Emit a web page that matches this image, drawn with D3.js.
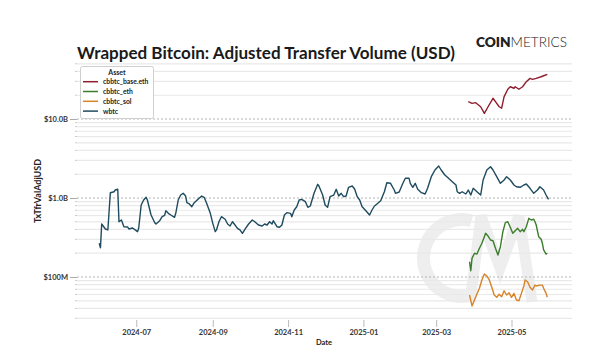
<!DOCTYPE html>
<html><head><meta charset="utf-8">
<script src="https://cdn.jsdelivr.net/npm/d3@7"></script>
<style>
body{margin:0;background:#fff}
svg{display:block}
text{font-family:Lato,"Open Sans",sans-serif}
</style>
</head><body>
<svg id="chart" width="600" height="356"></svg>
<script>
// ---------- DATA (values in USD millions) ----------
const seriesNames = ["cbbtc_base.eth", "cbbtc_eth", "cbbtc_sol", "wbtc"];
const seriesColors = ["#8e1d2e", "#3b7d2b", "#d98329", "#1e4b5e"];

const wbtcDates = ["2024-06-01","2024-06-02","2024-06-03","2024-06-06","2024-06-08","2024-06-10","2024-06-13","2024-06-14","2024-06-16","2024-06-17","2024-06-19","2024-06-21","2024-06-24","2024-06-25","2024-06-28","2024-07-01","2024-07-02","2024-07-03","2024-07-05","2024-07-07","2024-07-09","2024-07-10","2024-07-13","2024-07-16","2024-07-17","2024-07-20","2024-07-22","2024-07-24","2024-07-25","2024-07-27","2024-07-29","2024-08-01","2024-08-02","2024-08-04","2024-08-06","2024-08-08","2024-08-10","2024-08-11","2024-08-13","2024-08-15","2024-08-17","2024-08-20","2024-08-23","2024-08-25","2024-08-27","2024-08-30","2024-09-01","2024-09-03","2024-09-04","2024-09-06","2024-09-08","2024-09-11","2024-09-13","2024-09-15","2024-09-17","2024-09-19","2024-09-21","2024-09-23","2024-09-25","2024-09-27","2024-09-30","2024-10-03","2024-10-05","2024-10-08","2024-10-11","2024-10-13","2024-10-15","2024-10-17","2024-10-19","2024-10-20","2024-10-23","2024-10-25","2024-10-27","2024-10-29","2024-10-31","2024-11-03","2024-11-04","2024-11-06","2024-11-08","2024-11-10","2024-11-12","2024-11-15","2024-11-17","2024-11-19","2024-11-22","2024-11-25","2024-11-26","2024-11-29","2024-12-01","2024-12-03","2024-12-05","2024-12-08","2024-12-10","2024-12-12","2024-12-14","2024-12-16","2024-12-18","2024-12-20","2024-12-23","2024-12-25","2024-12-27","2024-12-29","2024-12-31","2025-01-03","2025-01-06","2025-01-08","2025-01-10","2025-01-12","2025-01-15","2025-01-18","2025-01-20","2025-01-23","2025-01-26","2025-01-27","2025-01-30","2025-02-02","2025-02-04","2025-02-07","2025-02-08","2025-02-10","2025-02-12","2025-02-14","2025-02-17","2025-02-20","2025-02-22","2025-02-25","2025-02-28","2025-03-03","2025-03-05","2025-03-08","2025-03-11","2025-03-14","2025-03-17","2025-03-18","2025-03-20","2025-03-22","2025-03-25","2025-03-27","2025-03-29","2025-03-31","2025-04-03","2025-04-06","2025-04-08","2025-04-11","2025-04-14","2025-04-16","2025-04-19","2025-04-22","2025-04-25","2025-04-27","2025-04-30","2025-05-03","2025-05-05","2025-05-08","2025-05-11","2025-05-13","2025-05-16","2025-05-19","2025-05-22","2025-05-24","2025-05-27","2025-05-29","2025-05-31"];
const wbtcValues = [267,235,469,405,394,1167,1201,1262,1289,501,527,433,430,405,417,386,375,417,815,943,1021,943,609,487,469,516,580,604,691,640,609,570,640,943,1091,1147,1060,872,840,776,872,963,1060,1021,857,640,478,375,394,501,580,538,469,442,501,455,413,394,357,401,469,527,501,455,442,469,455,501,469,516,433,426,455,609,652,640,580,705,776,943,963,898,762,792,1147,1490,1418,1091,815,762,1039,1091,1289,1060,1147,1039,1060,1366,1418,1289,1039,943,776,691,609,705,792,840,924,1201,1562,1535,1262,1147,1190,1535,1776,1776,1535,1366,1535,1289,1167,1124,1327,1861,2262,2542,2262,1955,1776,1608,1461,1201,1147,1201,1124,1262,1091,1327,1201,1091,1690,2262,2490,2262,1861,1535,1690,1861,1690,1461,1390,1366,1461,1504,1327,1147,1262,1390,1262,1091,963];

const baseEthDates = ["2025-03-27","2025-03-30","2025-04-02","2025-04-06","2025-04-09","2025-04-12","2025-04-16","2025-04-18","2025-04-21","2025-04-23","2025-04-25","2025-04-28","2025-04-30","2025-05-03","2025-05-04","2025-05-07","2025-05-10","2025-05-13","2025-05-16","2025-05-18","2025-05-21","2025-05-25","2025-05-27","2025-05-30"];
const baseEthValues = [16560,15800,16100,14300,11800,14300,18300,16560,14300,13700,19200,23800,25600,24500,25600,23800,25600,29700,32700,31800,32700,34300,35300,36800];

const ethDates = ["2025-03-28","2025-03-29","2025-03-30","2025-04-01","2025-04-03","2025-04-05","2025-04-07","2025-04-09","2025-04-10","2025-04-12","2025-04-14","2025-04-16","2025-04-18","2025-04-20","2025-04-22","2025-04-24","2025-04-26","2025-04-28","2025-04-30","2025-05-02","2025-05-04","2025-05-06","2025-05-08","2025-05-10","2025-05-11","2025-05-13","2025-05-15","2025-05-17","2025-05-19","2025-05-20","2025-05-21","2025-05-23","2025-05-25","2025-05-26","2025-05-27","2025-05-29","2025-05-30"];
const ethValues = [156,120,172,200,195,231,267,324,357,330,294,288,231,190,242,375,487,501,426,357,386,413,375,401,375,433,553,527,538,501,455,324,300,267,220,195,200];

const solDates = ["2025-03-28","2025-03-30","2025-04-01","2025-04-03","2025-04-05","2025-04-07","2025-04-09","2025-04-11","2025-04-13","2025-04-15","2025-04-17","2025-04-19","2025-04-21","2025-04-23","2025-04-25","2025-04-27","2025-04-29","2025-05-01","2025-05-03","2025-05-05","2025-05-07","2025-05-09","2025-05-11","2025-05-12","2025-05-14","2025-05-16","2025-05-18","2025-05-20","2025-05-21","2025-05-24","2025-05-26","2025-05-27","2025-05-29","2025-05-30"];
const solValues = [59.2,43,51.2,61,72,91.7,109,103,91.7,74,59.2,55.3,60.4,56.3,67,59.2,63,55.3,62,51.2,50,62,77,91.7,87,74,68.5,79,77,79,79,72,62,55.3];

const yTickValues = [100, 1000, 10000];
const yTickLabels = ["$100M", "$1.0B", "$10.0B"];
const yMinorValues = [30,40,50,60,70,80,90,200,300,400,500,600,700,800,900,2000,3000,4000,5000,6000,7000,8000,9000,20000,30000,40000,50000];
const xDomainDates = ["2024-05-14", "2025-06-19"];

const titleText = "Wrapped Bitcoin: Adjusted Transfer Volume (USD)";
const yAxisTitle = "TxTfrValAdjUSD";
const xAxisTitle = "Date";
const legendTitle = "Asset";

// ---------- CHART ----------
const parse = d3.utcParse("%Y-%m-%d");
const svg = d3.select("#chart");
const left = 77, right = 572;

const x = d3.scaleUtc().domain(xDomainDates.map(parse)).range([left, right]);
const y = d3.scaleLog().domain([30, 50000]).range([318.3, 63.8]);

// watermark (CM)
const wmColor = "#eeeeee";
const wm = svg.append("g");
wm.append("path")
  .attr("transform", "translate(462,258)")
  .attr("d", d3.arc().innerRadius(32).outerRadius(45).startAngle(Math.PI*0.9).endAngle(Math.PI*2.08)())
  .attr("fill", wmColor);
wm.append("path")
  .attr("d", "M470,302 L481,216 L500,268 L519,216 L532,302")
  .attr("fill", "none").attr("stroke", wmColor)
  .attr("stroke-width", 11).attr("stroke-linejoin", "miter");

// minor gridlines
svg.append("g").selectAll("line").data(yMinorValues).join("line")
  .attr("x1", left).attr("x2", right)
  .attr("y1", d => y(d)).attr("y2", d => y(d))
  .attr("stroke", "#e9e9e9").attr("stroke-width", 1.2);
svg.append("g").selectAll("line").data(yMinorValues).join("line")
  .attr("x1", left - 2).attr("x2", left)
  .attr("y1", d => y(d)).attr("y2", d => y(d))
  .attr("stroke", "#cccccc").attr("stroke-width", 1);

// major gridlines (dotted) + y axis labels
const yAxis = d3.axisLeft(y).tickValues(yTickValues)
  .tickFormat(d => yTickLabels[yTickValues.indexOf(d)])
  .tickSize(7).tickPadding(2);
const yg = svg.append("g").attr("transform", `translate(${left},0)`).call(yAxis);
yg.select(".domain").remove();
yg.selectAll(".tick line").attr("stroke", "#aaa");
yg.selectAll(".tick text").attr("font-size", 7.5).attr("font-weight", 700).attr("fill", "#333")
  .attr("font-family", "Lato, sans-serif");
svg.append("g").selectAll("line").data(yTickValues).join("line")
  .attr("x1", left).attr("x2", right)
  .attr("y1", d => y(d)).attr("y2", d => y(d))
  .attr("stroke", "#b5b5b5").attr("stroke-width", 1).attr("stroke-dasharray", "2,2");

// x axis
const xAxis = d3.axisBottom(x).ticks(d3.utcMonth.every(2)).tickFormat(d3.utcFormat("%Y-%m"))
  .tickSize(7).tickPadding(3);
const xg = svg.append("g").attr("transform", "translate(0,320)").call(xAxis);
xg.select(".domain").remove();
xg.selectAll(".tick line").attr("stroke", "#bbb");
xg.selectAll(".tick text").attr("font-size", 7.5).attr("font-weight", 700).attr("fill", "#333")
  .attr("font-family", "Lato, sans-serif");

// axis titles
svg.append("text").attr("x", 324).attr("y", 344.5).attr("text-anchor", "middle")
  .attr("font-size", 7.5).attr("font-weight", 700).attr("fill", "#222").text(xAxisTitle);
svg.append("text").attr("transform", "translate(41,191) rotate(-90)").attr("text-anchor", "middle")
  .attr("font-size", 9).attr("font-weight", 700).attr("fill", "#222").text(yAxisTitle);

// lines
const line = d3.line().x(d => x(d.date)).y(d => y(d.value)).curve(d3.curveLinear);
const allSeries = [
  {name: seriesNames[0], color: seriesColors[0], dates: baseEthDates, values: baseEthValues},
  {name: seriesNames[1], color: seriesColors[1], dates: ethDates, values: ethValues},
  {name: seriesNames[2], color: seriesColors[2], dates: solDates, values: solValues},
  {name: seriesNames[3], color: seriesColors[3], dates: wbtcDates, values: wbtcValues}
];
svg.append("g").selectAll("path").data(allSeries).join("path")
  .attr("fill", "none").attr("stroke", d => d.color).attr("stroke-width", 1.4)
  .attr("stroke-linejoin", "round")
  .attr("d", s => line(s.dates.map((dt, i) => ({date: parse(dt), value: s.values[i]}))));

// title + logo
svg.append("text").attr("x", 77).attr("y", 59).attr("font-size", 17.5).attr("font-weight", 700)
  .attr("fill", "#1a1a1a").attr("textLength", 378).attr("lengthAdjust", "spacingAndGlyphs").text(titleText);
const logo = svg.append("text").attr("x", 476).attr("y", 46.5).attr("font-size", 13).attr("fill", "#222")
  .attr("textLength", 91).attr("lengthAdjust", "spacingAndGlyphs");
logo.append("tspan").attr("font-weight", 800).text("COIN");
logo.append("tspan").attr("font-weight", 300).text("METRICS");

// legend
const lg = svg.append("g");
lg.append("rect").attr("x", 80.5).attr("y", 66.5).attr("width", 73).attr("height", 52).attr("rx", 2)
  .attr("fill", "#fff").attr("stroke", "#cfcfcf");
lg.append("text").attr("x", 117).attr("y", 74.5).attr("text-anchor", "middle")
  .attr("font-size", 7).attr("font-weight", 700).attr("fill", "#222").text(legendTitle);
const items = lg.selectAll("g.item").data(allSeries).join("g").attr("class", "item")
  .attr("transform", (d, i) => `translate(0,${81.7 + i * 9.8})`);
items.append("line").attr("x1", 83).attr("x2", 98).attr("stroke", d => d.color).attr("stroke-width", 1.5);
items.append("text").attr("x", 103).attr("y", 2.5).attr("font-size", 6.8).attr("font-weight", 700)
  .attr("fill", "#222").text(d => d.name);
</script>
</body></html>
